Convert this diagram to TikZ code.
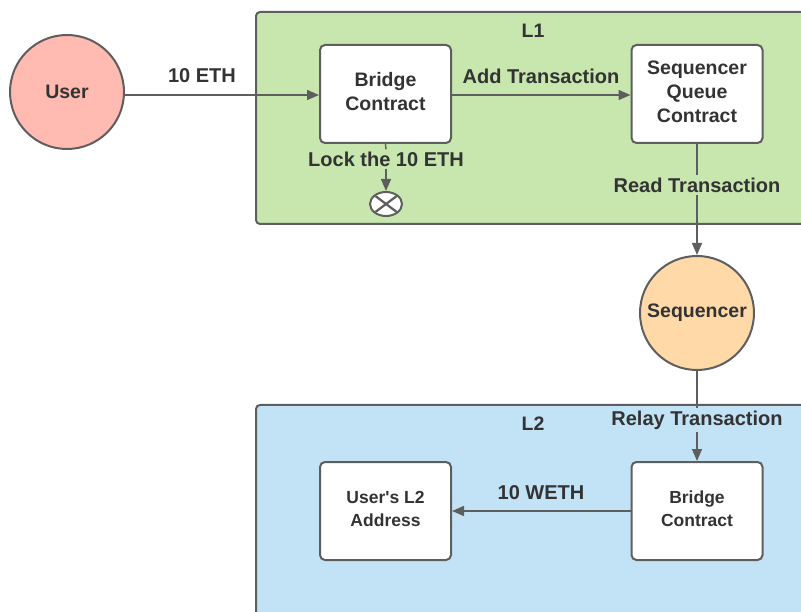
\documentclass[tikz,border=0pt]{standalone}
\usepackage{fontspec}
\setmainfont{Liberation Sans}
\usetikzlibrary{arrows.meta,shapes.geometric,calc}
\definecolor{edge}{HTML}{5E5E5E}
\definecolor{ink}{HTML}{333333}
\definecolor{lonefill}{HTML}{C7E7AE}
\definecolor{ltwofill}{HTML}{C2E3F5}
\definecolor{userfill}{HTML}{FFBAB1}
\definecolor{seqfill}{HTML}{FFDAA8}
\tikzset{
  region/.style={draw=edge, line width=2pt, rounded corners=4pt},
  actor/.style={circle, draw=edge, line width=2pt, minimum size=114pt, inner sep=0pt,
    font=\bfseries\fontsize{19.5}{21}\selectfont, text=ink},
  contract/.style={draw=edge, fill=white, line width=2pt, rounded corners=5pt,
    minimum width=131pt, minimum height=98pt, align=center, text=ink},
  bigtext/.style={font=\bfseries\fontsize{19.5}{24}\selectfont, text depth=5.5pt},
  smalltext/.style={font=\bfseries\fontsize{17.5}{23}\selectfont, text depth=4pt},
  flow/.style={draw=edge, line width=1.4pt, -{Triangle[length=12pt,width=10pt]}},
  lbl/.style={text=ink, font=\bfseries\fontsize{20}{22}\selectfont, inner sep=2pt},
  title/.style={text=ink, font=\bfseries\fontsize{19.5}{21}\selectfont},
}
\begin{document}
\begin{tikzpicture}[x=1pt,y=-1pt]
  \useasboundingbox (0,0) rectangle (801,612);
  \clip (0,0) rectangle (801,612);
  \fill[white] (0,0) rectangle (801,612);

  % layer containers
  \draw[region, fill=lonefill] (256,12) rectangle (840,224);
  \draw[region, fill=ltwofill] (256,405) rectangle (840,660);
  \node[title] (l1) at (533,31) {L1};
  \node[title] (l2) at (533,424) {L2};

  % actors
  \node[actor, fill=userfill] (user) at (67,92) {User};
  \node[actor, fill=seqfill] (seq) at (697,313) {Sequencer};

  % contracts
  \node[contract, bigtext] (bridgeA) at (385.5,94) {Bridge\\Contract};
  \node[contract, bigtext] (sqc) at (697,94) {Sequencer\\Queue\\Contract};
  \node[contract, smalltext] (bridgeB) at (697,511) {Bridge\\Contract};
  \node[contract, smalltext] (addr) at (385.5,511) {User\textquotesingle s L2\\Address};

  % locked funds marker
  \node[ellipse, draw=edge, fill=white, line width=2pt, minimum width=32pt,
        minimum height=24pt, inner sep=0pt] (lock) at (386,204) {};
  \begin{scope}
    \clip (lock.center) ellipse [x radius=15pt, y radius=11pt];
    \draw[edge, line width=2.2pt] ($(lock.center)+(-12,-9)$) -- ($(lock.center)+(12,9)$);
    \draw[edge, line width=2.2pt] ($(lock.center)+(-12,9)$) -- ($(lock.center)+(12,-9)$);
  \end{scope}

  % flows
  \coordinate (ueast) at ($(user.east)+(0,3)$);
  \draw[flow] (ueast) -- (bridgeA.west |- ueast);
  \node[lbl] (eth) at (202,76) {10 ETH};
  \draw[flow] (bridgeA.east |- ueast) -- (sqc.west |- ueast);
  \node[lbl] (addtx) at (541,76) {Add Transaction};
  \node[lbl, fill=lonefill] (locklbl) at (386,159) {Lock the 10 ETH};
  \draw[edge, line width=1.4pt] (bridgeA.south) -- (locklbl.north);
  \draw[flow] (locklbl.south) -- (lock.north);
  \node[lbl, fill=lonefill] (readlbl) at (697,185) {Read Transaction};
  \draw[edge, line width=1.4pt] (sqc.south) -- (readlbl.north);
  \draw[flow] (readlbl.south) -- (seq.north);
  \node[lbl, fill=ltwofill] (relaylbl) at (697,420) {Relay Transaction};
  \draw[edge, line width=1.4pt] (seq.south) -- (relaylbl.north);
  \draw[flow] (relaylbl.south) -- (bridgeB.north);
  \draw[flow] (bridgeB.west) -- (addr.east);
  \node[lbl] (weth) at (541,493) {10 WETH};
\end{tikzpicture}
\end{document}
